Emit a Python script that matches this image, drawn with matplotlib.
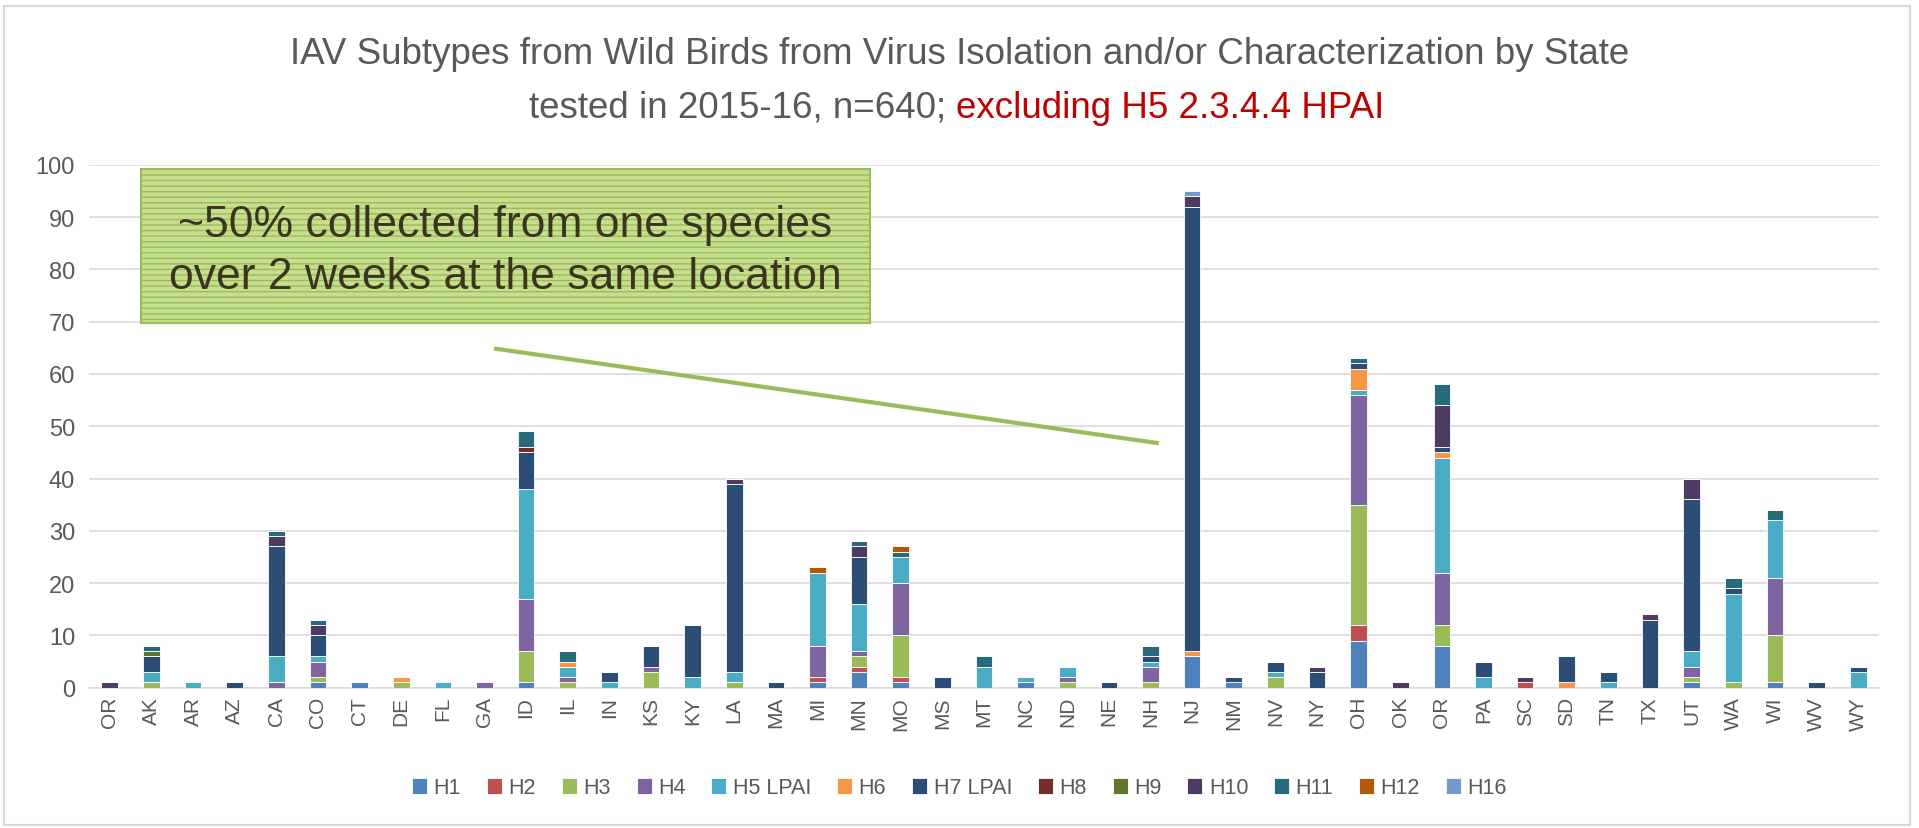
import matplotlib
matplotlib.use("Agg")
import matplotlib.pyplot as plt
import numpy as np
from matplotlib.patches import Rectangle

plt.rcParams['font.family'] = ['Liberation Sans Narrow', 'Liberation Sans', 'DejaVu Sans']
plt.rcParams['hatch.color'] = "#B2D36E"

states = ["OR", "AK", "AR", "AZ", "CA", "CO", "CT", "DE", "FL", "GA",
          "ID", "IL", "IN", "KS", "KY", "LA", "MA", "MI", "MN", "MO",
          "MS", "MT", "NC", "ND", "NE", "NH", "NJ", "NM", "NV", "NY",
          "OH", "OK", "OR", "PA", "SC", "SD", "TN", "TX", "UT", "WA",
          "WI", "WV", "WY"]

# counts per subtype, one value per state (same order as above)
h1 = [0, 0, 0, 0, 0, 1, 1, 0, 0, 0,
      1, 0, 0, 0, 0, 0, 0, 1, 3, 1,
      0, 0, 1, 0, 0, 0, 6, 1, 0, 0,
      9, 0, 8, 0, 0, 0, 0, 0, 1, 0,
      1, 0, 0]
h2 = [0, 0, 0, 0, 0, 0, 0, 0, 0, 0,
      0, 0, 0, 0, 0, 0, 0, 1, 1, 1,
      0, 0, 0, 0, 0, 0, 0, 0, 0, 0,
      3, 0, 0, 0, 1, 0, 0, 0, 0, 0,
      0, 0, 0]
h3 = [0, 1, 0, 0, 0, 1, 0, 1, 0, 0,
      6, 1, 0, 3, 0, 1, 0, 0, 2, 8,
      0, 0, 0, 1, 0, 1, 0, 0, 2, 0,
      23, 0, 4, 0, 0, 0, 0, 0, 1, 1,
      9, 0, 0]
h4 = [0, 0, 0, 0, 1, 3, 0, 0, 0, 1,
      10, 1, 0, 1, 0, 0, 0, 6, 1, 10,
      0, 0, 0, 1, 0, 3, 0, 0, 0, 0,
      21, 0, 10, 0, 0, 0, 0, 0, 2, 0,
      11, 0, 0]
h5 = [0, 2, 1, 0, 5, 1, 0, 0, 1, 0,
      21, 2, 1, 0, 2, 2, 0, 14, 9, 5,
      0, 4, 1, 2, 0, 1, 0, 0, 1, 0,
      1, 0, 22, 2, 0, 0, 1, 0, 3, 17,
      11, 0, 3]
h6 = [0, 0, 0, 0, 0, 0, 0, 1, 0, 0,
      0, 1, 0, 0, 0, 0, 0, 0, 0, 0,
      0, 0, 0, 0, 0, 0, 1, 0, 0, 0,
      4, 0, 1, 0, 0, 1, 0, 0, 0, 0,
      0, 0, 0]
h7 = [0, 3, 0, 1, 21, 4, 0, 0, 0, 0,
      7, 0, 2, 4, 10, 36, 1, 0, 9, 0,
      2, 0, 0, 0, 1, 1, 85, 1, 2, 3,
      1, 0, 1, 3, 0, 5, 2, 13, 29, 1,
      0, 1, 1]
h8 = [0, 0, 0, 0, 0, 0, 0, 0, 0, 0,
      1, 0, 0, 0, 0, 0, 0, 0, 0, 0,
      0, 0, 0, 0, 0, 0, 0, 0, 0, 0,
      0, 0, 0, 0, 0, 0, 0, 0, 0, 0,
      0, 0, 0]
h9 = [0, 1, 0, 0, 0, 0, 0, 0, 0, 0,
      0, 0, 0, 0, 0, 0, 0, 0, 0, 0,
      0, 0, 0, 0, 0, 0, 0, 0, 0, 0,
      0, 0, 0, 0, 0, 0, 0, 0, 0, 0,
      0, 0, 0]
h10 = [1, 0, 0, 0, 2, 2, 0, 0, 0, 0,
       0, 0, 0, 0, 0, 1, 0, 0, 2, 0,
       0, 0, 0, 0, 0, 0, 2, 0, 0, 1,
       0, 1, 8, 0, 1, 0, 0, 1, 4, 0,
       0, 0, 0]
h11 = [0, 1, 0, 0, 1, 1, 0, 0, 0, 0,
       3, 2, 0, 0, 0, 0, 0, 0, 1, 1,
       0, 2, 0, 0, 0, 2, 0, 0, 0, 0,
       1, 0, 4, 0, 0, 0, 0, 0, 0, 2,
       2, 0, 0]
h12 = [0, 0, 0, 0, 0, 0, 0, 0, 0, 0,
       0, 0, 0, 0, 0, 0, 0, 1, 0, 1,
       0, 0, 0, 0, 0, 0, 0, 0, 0, 0,
       0, 0, 0, 0, 0, 0, 0, 0, 0, 0,
       0, 0, 0]
h16 = [0, 0, 0, 0, 0, 0, 0, 0, 0, 0,
       0, 0, 0, 0, 0, 0, 0, 0, 0, 0,
       0, 0, 0, 0, 0, 0, 1, 0, 0, 0,
       0, 0, 0, 0, 0, 0, 0, 0, 0, 0,
       0, 0, 0]

subtypes = ["H1", "H2", "H3", "H4", "H5 LPAI", "H6", "H7 LPAI",
            "H8", "H9", "H10", "H11", "H12", "H16"]
series = [h1, h2, h3, h4, h5, h6, h7, h8, h9, h10, h11, h12, h16]
colors = ["#4F81BD", "#C0504D", "#9BBB59", "#8064A2", "#4BACC6", "#F79646",
          "#2C4D75", "#772C2A", "#5F7530", "#4D3B62", "#276A7C", "#B65708",
          "#729ACA"]

grey = "#595959"
W, H = 1919, 829
fig = plt.figure(figsize=(W / 100, H / 100), dpi=100)
ax = fig.add_axes([89 / W, (H - 688.7) / H, 1790 / W, 523 / H])

x = np.arange(len(states))
bottom = np.zeros(len(states))
for name, vals, c in zip(subtypes, series, colors):
    v = np.array(vals, dtype=float)
    ax.bar(x, v, width=0.4, bottom=bottom, color=c, label=name,
           edgecolor="white", linewidth=0.6, zorder=3)
    bottom += v

ax.set_xlim(-0.5, len(states) - 0.5)
ax.set_ylim(0, 100)
ax.set_yticks(np.arange(0, 101, 10))
ax.grid(axis="y", color="#D9D9D9", linewidth=1.2, zorder=0)
for s in ["top", "right", "left"]:
    ax.spines[s].set_visible(False)
ax.spines["bottom"].set_color("#D9D9D9")
ax.spines["bottom"].set_linewidth(1.2)
ax.tick_params(axis="y", length=0, labelsize=17, labelcolor=grey, pad=10)
ax.tick_params(axis="x", length=0, labelsize=15, labelcolor=grey, pad=6)
ax.set_xticks(x)
ax.set_xticklabels(states, rotation=90)

# annotation box and pointer line
ax.add_patch(Rectangle((0.75, 69.7), 17.5, 29.5, facecolor="#C6DF8F",
                       edgecolor="#9BBB59", linewidth=1.5, hatch="---",
                       zorder=5, clip_on=False))
ax.text(9.5, 88.6, "~50% collected from one species", ha="center", va="center",
        fontsize=32, color="#3B3520", zorder=6)
ax.text(9.5, 78.6, "over 2 weeks at the same location", ha="center", va="center",
        fontsize=32, color="#3B3520", zorder=6)
ax.plot([9.28, 25.15], [64.8, 46.8], color="#9BBB59", linewidth=3, zorder=4)

# title, second line in two colours
fig.text(0.5, (H - 55) / H, "IAV Subtypes from Wild Birds from Virus Isolation and/or Characterization by State",
         ha="center", va="center", fontsize=26.5, color=grey)
ty = (H - 108) / H
t1 = fig.text(0, ty, "tested in 2015-16, n=640; ", ha="left", va="center", fontsize=26.5, color=grey)
t2 = fig.text(0, ty, "excluding H5 2.3.4.4 HPAI", ha="left", va="center", fontsize=26.5, color="#C00000")
r = fig.canvas.get_renderer()
w1 = t1.get_window_extent(r).width / W
w2 = t2.get_window_extent(r).width / W
x0 = 0.4985 - (w1 + w2) / 2
t1.set_x(x0)
t2.set_x(x0 + w1)

fig.legend(loc="center", bbox_to_anchor=(0.5, (H - 789) / H), ncol=13, frameon=False,
           fontsize=15.5, labelcolor=grey, handlelength=0.7, handleheight=0.7,
           handletextpad=0.3, columnspacing=1.2)

# outer chart border
fig.add_artist(Rectangle((4 / W, 0.004), 1906 / W, (H - 10) / H, transform=fig.transFigure,
                         fill=False, edgecolor="#D9D9D9", linewidth=1.5))

fig.savefig("out.png", dpi=100)
